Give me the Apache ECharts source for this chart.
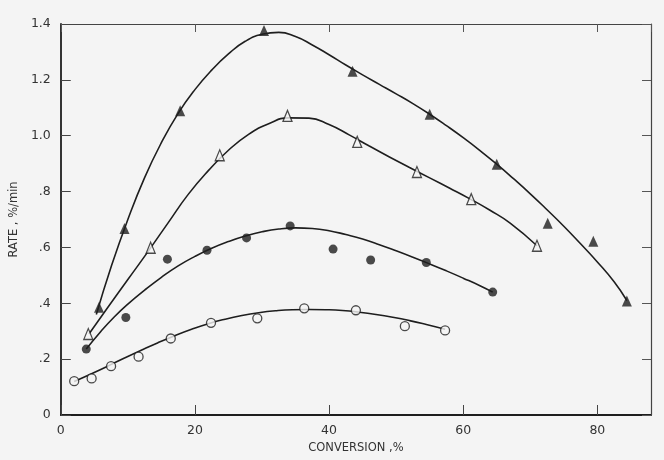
<!DOCTYPE html>
<html>
<head>
<meta charset="utf-8">
<script src="https://cdn.jsdelivr.net/npm/echarts@6/dist/echarts.min.js"></script>
<style>html,body{margin:0;padding:0;background:#f4f4f4;}#c{width:664px;height:460px;}</style>
</head>
<body>
<div id="c"></div>
<script>
// Measured points [conversion %, rate %/min]
const solidTriangles = [[5.7,0.386],[9.5,0.668],[17.8,1.089],[30.3,1.377],[43.5,1.231],[55.0,1.077],[65.0,0.898],[72.6,0.687],[79.4,0.622],[84.4,0.408]];
const openTriangles = [[4.1,0.29],[13.4,0.599],[23.7,0.930],[33.8,1.071],[44.2,0.978],[53.1,0.870],[61.2,0.773],[71.0,0.606]];
const solidCircles = [[3.8,0.236],[9.7,0.349],[15.9,0.558],[21.8,0.590],[27.7,0.634],[34.2,0.677],[40.6,0.594],[46.2,0.555],[54.5,0.546],[64.4,0.440]];
const openCircles = [[2.0,0.121],[4.6,0.131],[7.5,0.175],[11.6,0.209],[16.4,0.274],[22.4,0.330],[29.3,0.346],[36.3,0.382],[44.0,0.375],[51.3,0.318],[57.3,0.303]];

// Fitted curves
const curveSolidTri = [[5.3,0.36],[7.5,0.53],[10,0.70],[12.5,0.85],[15,0.975],[17.5,1.08],[20,1.165],[22.5,1.235],[25,1.293],[27.5,1.338],[30,1.363],[32.5,1.37],[35,1.355],[37.5,1.325],[40,1.29],[42.5,1.253],[45,1.218],[47.5,1.184],[50,1.15],[52.5,1.115],[55,1.077],[57.5,1.036],[60,0.993],[62.5,0.947],[65,0.898],[67.5,0.846],[70,0.792],[72.5,0.735],[75,0.676],[77.5,0.613],[80,0.548],[82.5,0.477],[84.4,0.41]];
const curveOpenTri = [[4.2,0.29],[7,0.385],[10,0.485],[13,0.585],[16,0.688],[19,0.79],[22,0.875],[25,0.948],[28,1.005],[31,1.043],[34,1.064],[37,1.063],[40,1.04],[43,1.003],[46,0.963],[49,0.924],[52,0.886],[55,0.849],[58,0.812],[61,0.774],[64,0.733],[67,0.687],[71,0.606]];
const curveSolidCirc = [[3.8,0.236],[6,0.30],[8,0.352],[10,0.397],[12.5,0.447],[15,0.493],[17.5,0.534],[20,0.568],[22.5,0.597],[25,0.621],[27.5,0.641],[30,0.656],[32.5,0.666],[35,0.670],[37.5,0.668],[40,0.66],[42.5,0.646],[45,0.63],[47.5,0.61],[50,0.588],[52.5,0.565],[55,0.541],[57.5,0.516],[60,0.49],[62.5,0.463],[64.4,0.44]];
const curveOpenCirc = [[2.0,0.12],[4.5,0.147],[7,0.175],[9.5,0.204],[12,0.232],[14.5,0.259],[17,0.284],[19.5,0.307],[22,0.327],[24.5,0.343],[27,0.356],[29.5,0.366],[32,0.373],[34.5,0.377],[37,0.378],[39.5,0.377],[42,0.374],[44.5,0.368],[47,0.36],[49.5,0.35],[52,0.338],[54.5,0.324],[57.3,0.307]];

const yTickLabels = {'0':'0','0.2':'.2','0.4':'.4','0.6':'.6','0.8':'.8','1':'1.0','1.2':'1.2','1.4':'1.4'};

const bg = '#f4f4f4';
const ink = '#1e1e1e';
const font = 'DejaVu Sans';

function curve(data) {
  return {type:'line', data:data, smooth:0.5, showSymbol:false, symbol:'none',
    lineStyle:{color:ink, width:1.6}, z:2, silent:true};
}
function marks(data, symbol, filled, size) {
  return {type:'scatter', data:data, symbol:symbol, symbolSize:size, z:5,
    itemStyle:{color: filled ? ink : bg, borderColor:ink, borderWidth: filled ? 0 : 1.3}};
}

const chart = echarts.init(document.getElementById('c'), null, {renderer:'canvas'});
chart.setOption({
  backgroundColor: bg,
  animation: false,
  grid: {left:53, right:13, top:24, bottom:45, containLabel:false},
  xAxis: [{
    type:'value', min:0, max:88, interval:20, position:'bottom',
    name:'CONVERSION ,%', nameLocation:'middle', nameGap:27,
    nameTextStyle:{fontFamily:font, fontSize:11.5, color:'#333'},
    axisLine:{show:true, onZero:false, lineStyle:{color:ink, width:1.8}},
    axisTick:{show:true, inside:true, length:10, lineStyle:{color:'#444', width:1}},
    axisLabel:{fontFamily:font, fontSize:12.5, color:'#333', margin:9,
      formatter: v => (v % 20 === 0 ? String(v) : '')},
    splitLine:{show:false}
  },{
    type:'value', min:0, max:88, interval:20, position:'top',
    axisLine:{show:true, onZero:false, lineStyle:{color:'#444', width:1.2}},
    axisTick:{show:true, inside:true, length:8, lineStyle:{color:'#555', width:1}},
    axisLabel:{show:false}, splitLine:{show:false}
  }],
  yAxis: [{
    type:'value', min:0, max:1.4, interval:0.2, position:'left',
    name:'RATE , %/min', nameLocation:'middle', nameGap:40, nameRotate:90,
    nameTextStyle:{fontFamily:font, fontSize:11.5, color:'#333'},
    axisLine:{show:true, onZero:false, lineStyle:{color:ink, width:1.8}},
    axisTick:{show:true, inside:true, length:10, lineStyle:{color:'#444', width:1}},
    axisLabel:{fontFamily:font, fontSize:12.5, color:'#333', margin:10,
      formatter: v => yTickLabels[String(Math.round(v*10)/10)] || ''},
    splitLine:{show:false}
  },{
    type:'value', min:0, max:1.4, interval:0.2, position:'right',
    axisLine:{show:true, onZero:false, lineStyle:{color:'#444', width:1.2}},
    axisTick:{show:true, inside:true, length:9, lineStyle:{color:'#555', width:1}},
    axisLabel:{show:false}, splitLine:{show:false}
  }],
  series: [
    curve(curveSolidTri), curve(curveOpenTri), curve(curveSolidCirc), curve(curveOpenCirc),
    marks(solidTriangles, 'triangle', true, [10,11]),
    marks(openTriangles, 'triangle', false, [9,11]),
    marks(solidCircles, 'circle', true, 9),
    marks(openCircles, 'circle', false, 9)
  ]
});
</script>
</body>
</html>
